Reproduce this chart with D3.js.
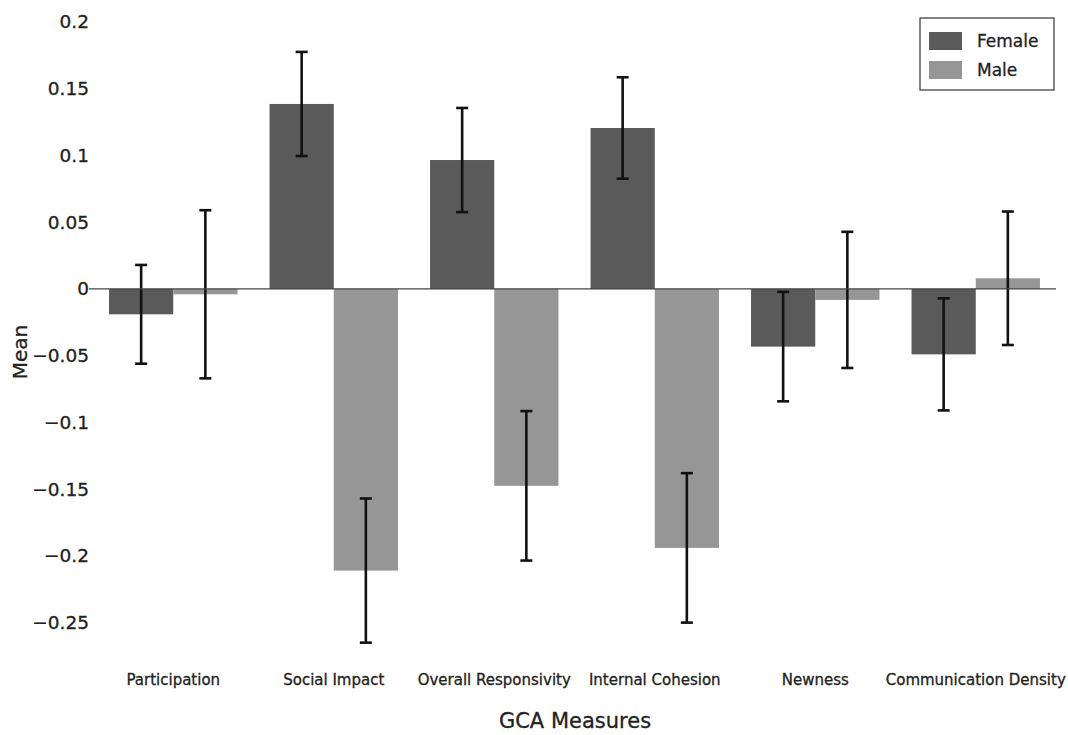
<html>
<head>
<meta charset="utf-8">
<style>
  body { margin: 0; background: #fff; font-family: "DejaVu Sans", Verdana, sans-serif; overflow: hidden; }
  svg { display: block; }
  text { stroke: #222; stroke-width: 0.3px; }
</style>
</head>
<body>
<div id="chart-holder"></div>
<script src="https://d3js.org/d3.v7.min.js"></script>
<script>
// data
var categories = ['Participation', 'Social Impact', 'Overall Responsivity', 'Internal Cohesion', 'Newness', 'Communication Density'];
var seriesNames = ['Female', 'Male'];
var femaleMeans = [-0.019, 0.1386, 0.0966, 0.1206, -0.0432, -0.049];
var femaleErrors = [0.037, 0.039, 0.039, 0.038, 0.041, 0.042];
var maleMeans = [-0.004, -0.211, -0.1475, -0.194, -0.0082, 0.008];
var maleErrors = [0.063, 0.054, 0.056, 0.056, 0.051, 0.050];
var yTicks = [0.2, 0.15, 0.1, 0.05, 0, -0.05, -0.1, -0.15, -0.2, -0.25];

var width = 1068;
var height = 735;
var margin = {top: 10, right: 12, bottom: 75, left: 93};
var innerWidth = width - margin.left - margin.right;
var innerHeight = height - margin.top - margin.bottom;

var colors = d3.scaleOrdinal().domain(seriesNames).range(['#5a5a5a', '#969696']);

var svg = d3.select('#chart-holder')
  .append('svg')
  .attr('width', width)
  .attr('height', height);

var g = svg.append('g')
  .attr('transform', 'translate(' + margin.left + ',' + margin.top + ')');

// build rows from the arrays
var rows = categories.map(function(c, i) {
  return {
    category: c,
    values: [
      {series: 'Female', mean: femaleMeans[i], err: femaleErrors[i]},
      {series: 'Male', mean: maleMeans[i], err: maleErrors[i]}
    ]
  };
});

// scales
var x0 = d3.scaleBand()
  .domain(categories)
  .range([0, innerWidth])
  .paddingInner(0.2)
  .paddingOuter(0.1);

var x1 = d3.scaleBand()
  .domain(seriesNames)
  .range([0, x0.bandwidth()]);

var y = d3.scaleLinear()
  .domain([-0.278, 0.209])
  .range([innerHeight, 0]);

// y axis (labels only)
var yAxis = d3.axisLeft(y)
  .tickValues(yTicks)
  .tickFormat(d3.format('~g'))
  .tickSize(0)
  .tickPadding(4);

g.append('g')
  .attr('class', 'y-axis')
  .call(yAxis)
  .call(function(s) { s.select('.domain').remove(); })
  .selectAll('text')
  .style('font-size', '18.5px')
  .style('font-family', '"DejaVu Sans", Verdana, sans-serif')
  .attr('fill', '#222');

// x axis (labels only)
var xAxis = d3.axisBottom(x0).tickSize(0).tickPadding(0);

g.append('g')
  .attr('class', 'x-axis')
  .attr('transform', 'translate(0,' + (innerHeight + 14) + ')')
  .call(xAxis)
  .call(function(s) { s.select('.domain').remove(); })
  .selectAll('text')
  .style('font-size', '15px')
  .style('font-family', '"DejaVu Sans", Verdana, sans-serif')
  .attr('fill', '#222');

// bars
var groups = g.selectAll('.group')
  .data(rows)
  .enter()
  .append('g')
  .attr('class', 'group')
  .attr('transform', function(d) { return 'translate(' + x0(d.category) + ',0)'; });

groups.selectAll('.bar')
  .data(function(d) { return d.values; })
  .enter()
  .append('rect')
  .attr('class', 'bar')
  .attr('x', function(d) { return x1(d.series); })
  .attr('y', function(d) { return y(Math.max(0, d.mean)); })
  .attr('width', x1.bandwidth())
  .attr('height', function(d) { return Math.abs(y(d.mean) - y(0)); })
  .attr('fill', function(d) { return colors(d.series); });

// zero line
g.append('line')
  .attr('x1', -4)
  .attr('x2', innerWidth)
  .attr('y1', y(0))
  .attr('y2', y(0))
  .attr('stroke', '#444')
  .attr('stroke-width', 1.2);

// error bars
var capHalf = 6;
var errs = groups.selectAll('.err')
  .data(function(d) { return d.values; })
  .enter()
  .append('g')
  .attr('class', 'err')
  .attr('stroke', '#111')
  .attr('stroke-width', 2.6);

errs.append('line')
  .attr('x1', function(d) { return x1(d.series) + x1.bandwidth() / 2; })
  .attr('x2', function(d) { return x1(d.series) + x1.bandwidth() / 2; })
  .attr('y1', function(d) { return y(d.mean + d.err); })
  .attr('y2', function(d) { return y(d.mean - d.err); });

[1, -1].forEach(function(sign) {
  errs.append('line')
    .attr('x1', function(d) { return x1(d.series) + x1.bandwidth() / 2 - capHalf; })
    .attr('x2', function(d) { return x1(d.series) + x1.bandwidth() / 2 + capHalf; })
    .attr('y1', function(d) { return y(d.mean + sign * d.err); })
    .attr('y2', function(d) { return y(d.mean + sign * d.err); });
});

// axis titles
svg.append('text')
  .attr('x', 575)
  .attr('y', 728)
  .attr('text-anchor', 'middle')
  .style('font-size', '21px')
  .attr('fill', '#222')
  .text('GCA Measures');

svg.append('text')
  .attr('transform', 'translate(27,352) rotate(-90)')
  .attr('text-anchor', 'middle')
  .style('font-size', '20px')
  .attr('fill', '#222')
  .text('Mean');

// legend
var legend = svg.append('g')
  .attr('transform', 'translate(920,18)');

legend.append('rect')
  .attr('width', 134)
  .attr('height', 72)
  .attr('fill', '#fff')
  .attr('stroke', '#333')
  .attr('stroke-width', 1.2);

var items = legend.selectAll('.item')
  .data(seriesNames)
  .enter()
  .append('g')
  .attr('class', 'item')
  .attr('transform', function(d, i) { return 'translate(9,' + (14 + i * 29) + ')'; });

items.append('rect')
  .attr('width', 33)
  .attr('height', 18)
  .attr('fill', function(d) { return colors(d); });

items.append('text')
  .attr('x', 48)
  .attr('y', 9)
  .attr('dominant-baseline', 'central')
  .style('font-size', '17px')
  .attr('fill', '#222')
  .text(function(d) { return d; });
</script>
</body>
</html>
